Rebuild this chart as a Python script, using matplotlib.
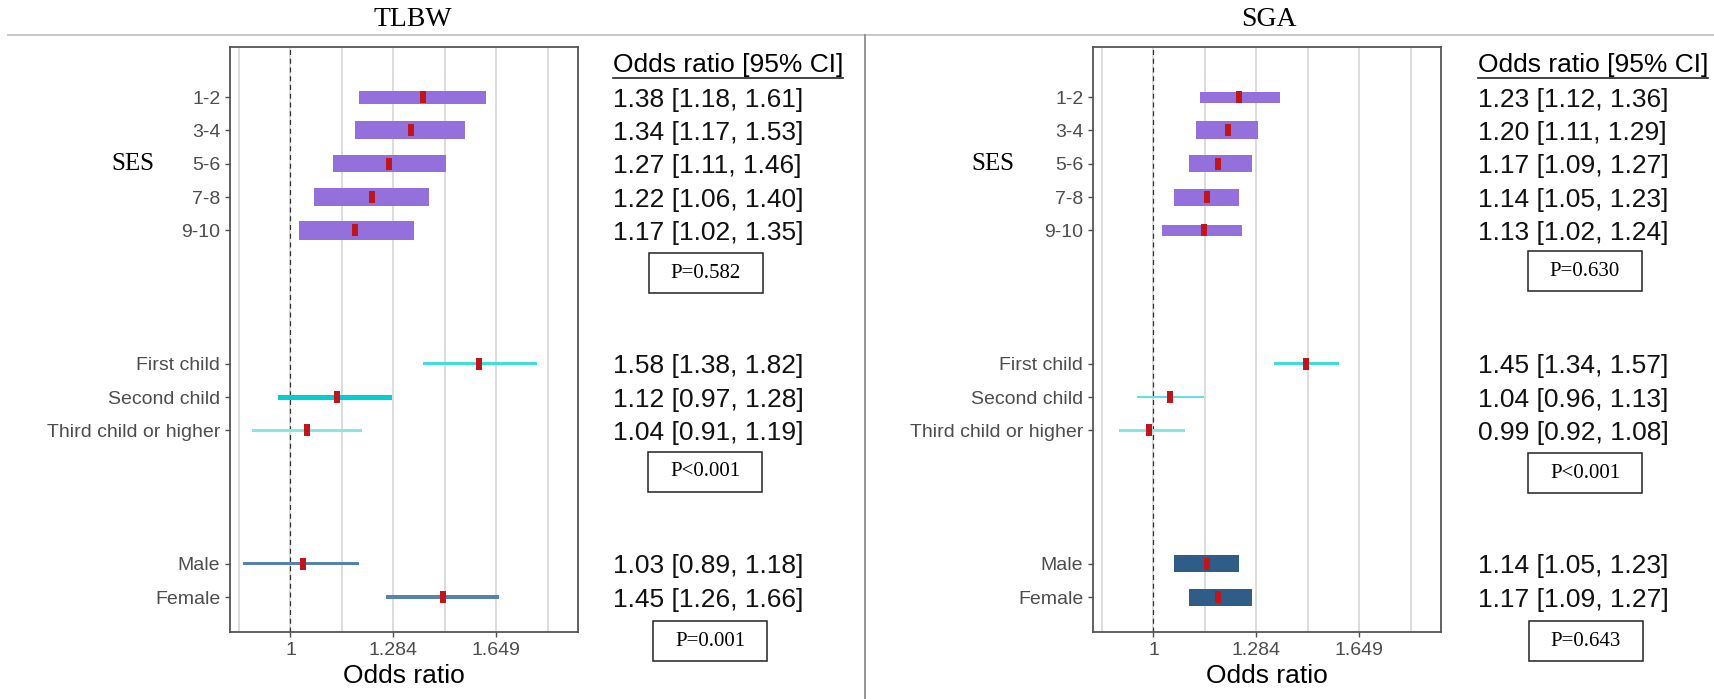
import numpy as np
import matplotlib
matplotlib.use('Agg')
import matplotlib.pyplot as plt
from matplotlib.transforms import blended_transform_factory
from matplotlib.patches import Rectangle

plt.rcParams['font.family'] = ['Liberation Sans', 'DejaVu Sans']

# row labels and their slots on the y axis (gaps between the three blocks)
row_labels = ['1-2', '3-4', '5-6', '7-8', '9-10',
              'First child', 'Second child', 'Third child or higher',
              'Male', 'Female']
row_pos = [0, 1, 2, 3, 4, 8, 9, 10, 14, 15]

# TLBW odds ratios and 95% CI
tlbw_or = [1.38, 1.34, 1.27, 1.22, 1.17, 1.58, 1.12, 1.04, 1.03, 1.45]
tlbw_lo = [1.18, 1.17, 1.11, 1.06, 1.02, 1.38, 0.97, 0.91, 0.89, 1.26]
tlbw_hi = [1.61, 1.53, 1.46, 1.40, 1.35, 1.82, 1.28, 1.19, 1.18, 1.66]
tlbw_p = ['P=0.582', 'P<0.001', 'P=0.001']

# SGA odds ratios and 95% CI
sga_or = [1.23, 1.20, 1.17, 1.14, 1.13, 1.45, 1.04, 0.99, 1.14, 1.17]
sga_lo = [1.12, 1.11, 1.09, 1.05, 1.02, 1.34, 0.96, 0.92, 1.05, 1.09]
sga_hi = [1.36, 1.29, 1.27, 1.23, 1.24, 1.57, 1.13, 1.08, 1.23, 1.27]
sga_p = ['P=0.630', 'P<0.001', 'P=0.643']

xticks = [1, 1.284, 1.649]
xtick_labels = ['1', '1.284', '1.649']

# styling per row: colour and bar thickness in pixels
tlbw_col = ['#9370DB'] * 5 + ['#40E0D8', '#00CED1', '#85E8E8'] + ['#5682AD'] * 2
tlbw_thick = [13, 18, 17, 18, 19, 3, 5, 3, 3, 3.5]
sga_col = ['#9370DB'] * 5 + ['#40DCDC', '#5FE2E2', '#85E8E8'] + ['#2F5D88'] * 2
sga_thick = [11, 18, 17, 17, 11, 3, 2.5, 3, 17, 17]

W, H = 1715, 699
PX = 72 / 100.0
ROW_PX = 585 / 17.55

fig = plt.figure(figsize=(W / 100, H / 100), dpi=100)

# pixel-coordinate layer for separators, titles and P boxes
bg = fig.add_axes([0, 0, 1, 1])
bg.set_xlim(0, W)
bg.set_ylim(H, 0)
bg.axis('off')
bg.plot([8, W], [35, 35], color='#c4c4c4', lw=1.3)
bg.plot([865, 865], [35, H], color='#8c8c8c', lw=1.3)

red_box = [(-0.25, -0.5), (0.25, -0.5), (0.25, 0.5), (-0.25, 0.5), (-0.25, -0.5)]


def forest(left_px, ors, lo, hi, cols, thick, title, title_x, ses_x, text_x, pvals, pbox):
    ax = fig.add_axes([left_px / W, (H - 632) / H, 348 / W, 585 / H])
    ax.set_xscale('log')
    ax.set_xlim(np.exp(-0.147), np.exp(0.699))
    ax.set_ylim(16.05, -1.5)
    for g in np.exp(np.arange(-1, 6) / 8.0):
        ax.axvline(g, color='#d2d2d2', lw=1.1, zorder=0)
    ax.axvline(1, color='#333333', lw=0.9, ls=(0, (4, 3)), zorder=1)
    ors, lo, hi = np.array(ors), np.array(lo), np.array(hi)
    ax.barh(row_pos, hi - lo, left=lo, height=np.array(thick) / ROW_PX,
            color=cols, zorder=2)
    ax.plot(ors, row_pos, ls='none', marker=red_box, ms=12 * PX, mew=0,
            color='#C0161B', zorder=3)

    ax.set_yticks(row_pos, row_labels)
    ax.set_xticks(xticks, xtick_labels)
    ax.xaxis.set_minor_locator(plt.NullLocator())
    ax.tick_params(labelsize=14, labelcolor='#4D4D4D', color='#4D4D4D',
                   length=3.5, width=1)
    ax.tick_params(axis='x', pad=4)
    for s in ax.spines.values():
        s.set_color('#555555')
        s.set_linewidth(1.3)
    ax.set_xlabel('Odds ratio', fontsize=19, labelpad=3)

    bg.text(title_x, 20, title, family='Liberation Serif', fontsize=20,
            ha='center', va='center')
    tr = blended_transform_factory(bg.transData, ax.transData)
    bg.text(ses_x, 2, 'SES', family='Liberation Serif', fontsize=18,
            ha='center', va='center', transform=tr)

    head = bg.text(text_x, -0.96, 'Odds ratio [95% CI]', fontsize=19,
                   ha='left', va='center', transform=tr)
    for r, o, a, b in zip(row_pos, ors, lo, hi):
        bg.text(text_x, r + 0.08, f'{o:.2f} [{a:.2f}, {b:.2f}]', fontsize=19,
                ha='left', va='center', transform=tr, color='#111111')

    for p, (cx, cy) in zip(pvals, pbox):
        bg.add_patch(Rectangle((cx - 57, cy - 20), 114, 40, fill=False,
                               edgecolor='#222222', lw=1.1))
        bg.text(cx, cy, p, family='Liberation Serif', fontsize=15,
                ha='center', va='center')
    return head


heads = [
    forest(230, tlbw_or, tlbw_lo, tlbw_hi, tlbw_col, tlbw_thick, 'TLBW', 413, 133,
           613, tlbw_p, [(706, 273), (705, 472), (710, 641)]),
    forest(1093, sga_or, sga_lo, sga_hi, sga_col, sga_thick, 'SGA', 1269, 993,
           1478, sga_p, [(1585, 271), (1585, 473), (1586, 641)]),
]

# underline the column headers
fig.canvas.draw()
inv = bg.transData.inverted()
for h in heads:
    bb = h.get_window_extent()
    (x0, y0), (x1, _) = inv.transform([[bb.x0, bb.y0], [bb.x1, bb.y0]])
    bg.plot([x0, x1], [y0 + 1, y0 + 1], color='#222222', lw=1.2)

fig.savefig('out.png', dpi=100)
